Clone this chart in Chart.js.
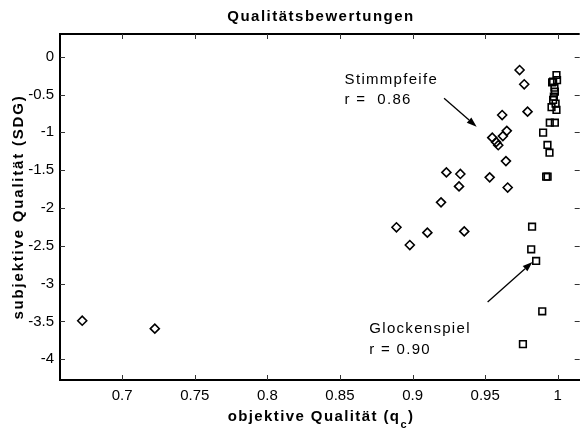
<!DOCTYPE html>
<html><head><meta charset="utf-8">
<script src="https://cdn.jsdelivr.net/npm/chart.js@4.4.0/dist/chart.umd.min.js"></script>
<style>html,body{margin:0;padding:0;background:#fff;overflow:hidden}#wrap{width:581px;height:429px;position:relative;overflow:hidden}</style>
</head><body><div id="wrap"><canvas id="c" width="586" height="429"></canvas></div>
<script>
// ---- data ----
const stimmpfeifeX = [0.6725, 0.7225, 0.8889, 0.8981, 0.9102, 0.9196, 0.9233, 0.9320, 0.9329, 0.9356, 0.9531,
  0.9549, 0.9576, 0.9590, 0.9622, 0.9649, 0.9617, 0.9643, 0.9655, 0.9737, 0.9769, 0.9792];
const stimmpfeifeY = [-3.49, -3.595, -2.255, -2.49, -2.326, -1.925, -1.53, -1.715, -1.55, -2.31, -1.595,
  -1.07, -1.13, -1.17, -1.05, -0.98, -0.771, -1.38, -1.73, -0.176, -0.365, -0.727];
const glockenspielX = [0.9991, 0.9995, 0.9961, 0.9968, 0.9977, 0.9980, 0.9973, 0.9968, 0.9985, 0.9957, 0.9991,
  0.9945, 0.9980, 0.9899, 0.9929, 0.9943, 0.9920, 0.9930, 0.9823, 0.9817, 0.9851, 0.9893, 0.9760];
const glockenspielY = [-0.242, -0.31, -0.339, -0.33, -0.41, -0.463, -0.529, -0.572, -0.62, -0.668, -0.704,
  -0.872, -0.872, -1.004, -1.167, -1.269, -1.586, -1.586, -2.247, -2.546, -2.70, -3.366, -3.80];
const xTicks = [0.7, 0.75, 0.8, 0.85, 0.9, 0.95, 1];
const yTicks = [-4, -3.5, -3, -2.5, -2, -1.5, -1, -0.5, 0];
const chartTitle = 'Qualitätsbewertungen';
const xTitleMain = 'objektive Qualität (q';
const xTitleSub = 'c';
const xTitleEnd = ')';
const yTitle = 'subjektive Qualität (SDG)';
const noteStimm = ['Stimmpfeife', 'r =  0.86'];
const noteGlocken = ['Glockenspiel', 'r = 0.90'];

// annotation anchors in data coordinates
const notes = [
  {lines: noteStimm, x: 0.8532, y: [-0.36, -0.625], from: [0.9217, -0.55], to: [0.9441, -0.925]},
  {lines: noteGlocken, x: 0.8702, y: [-3.652, -3.93], from: [0.9517, -3.243], to: [0.9826, -2.714]}
];

const FONT = '"Liberation Sans", Arial, sans-serif';
const toPts = (xs, ys) => xs.map((x, i) => ({x, y: ys[i]}));

const decor = {
  id: 'decor',
  afterDraw(chart) {
    const ctx = chart.ctx, a = chart.chartArea, xs = chart.scales.x, ys = chart.scales.y;
    const cx = 321;
    ctx.save();
    // top frame line
    ctx.strokeStyle = '#000'; ctx.lineWidth = 2;
    ctx.beginPath(); ctx.moveTo(a.left - 1, a.top); ctx.lineTo(a.right, a.top); ctx.stroke();
    // inward ticks
    ctx.lineWidth = 1; ctx.strokeStyle = '#333';
    xTicks.forEach(v => {
      const px = Math.round(xs.getPixelForValue(v)) + 0.5;
      ctx.beginPath(); ctx.moveTo(px, a.bottom); ctx.lineTo(px, a.bottom - 5); ctx.stroke();
      ctx.beginPath(); ctx.moveTo(px, a.top); ctx.lineTo(px, a.top + 5); ctx.stroke();
    });
    yTicks.forEach(v => {
      const py = Math.round(ys.getPixelForValue(v)) + 0.5;
      ctx.beginPath(); ctx.moveTo(a.left, py); ctx.lineTo(a.left + 5, py); ctx.stroke();
      ctx.beginPath(); ctx.moveTo(a.right - 5, py); ctx.lineTo(a.right, py); ctx.stroke();
    });

    ctx.fillStyle = '#000';
    // chart title
    ctx.font = 'bold 15px ' + FONT;
    ctx.letterSpacing = '1.5px';
    ctx.textAlign = 'center'; ctx.textBaseline = 'alphabetic';
    ctx.fillText(chartTitle, cx, 21);

    // x title with subscript
    ctx.textAlign = 'left';
    ctx.letterSpacing = '1.4px';
    ctx.font = 'bold 15px ' + FONT;
    const w1 = ctx.measureText(xTitleMain).width;
    const w3 = ctx.measureText(xTitleEnd).width;
    ctx.font = 'bold 11px ' + FONT;
    const w2 = ctx.measureText(xTitleSub).width;
    const sx = cx - (w1 + w2 + w3) / 2;
    ctx.font = 'bold 15px ' + FONT;
    ctx.fillText(xTitleMain, sx, 421);
    ctx.font = 'bold 11px ' + FONT;
    ctx.fillText(xTitleSub, sx + w1, 428);
    ctx.font = 'bold 15px ' + FONT;
    ctx.fillText(xTitleEnd, sx + w1 + w2, 421);

    // y title
    ctx.save();
    ctx.translate(23, (a.top + a.bottom) / 2);
    ctx.rotate(-Math.PI / 2);
    ctx.textAlign = 'center';
    ctx.letterSpacing = '1.8px';
    ctx.font = 'bold 15px ' + FONT;
    ctx.fillText(yTitle, 0, 0);
    ctx.restore();

    // annotations
    ctx.font = '15px ' + FONT;
    ctx.letterSpacing = '1.3px';
    ctx.textAlign = 'left';
    notes.forEach(n => {
      const tx = xs.getPixelForValue(n.x);
      n.lines.forEach((t, i) => ctx.fillText(t, tx, ys.getPixelForValue(n.y[i])));
      const x0 = xs.getPixelForValue(n.from[0]), y0 = ys.getPixelForValue(n.from[1]);
      const x1 = xs.getPixelForValue(n.to[0]), y1 = ys.getPixelForValue(n.to[1]);
      const ang = Math.atan2(y1 - y0, x1 - x0);
      const hl = 10, hw = 3.5;
      const bx = x1 - hl * Math.cos(ang), by = y1 - hl * Math.sin(ang);
      ctx.lineWidth = 1.3; ctx.strokeStyle = '#000';
      ctx.beginPath(); ctx.moveTo(x0, y0); ctx.lineTo(bx, by); ctx.stroke();
      ctx.beginPath();
      ctx.moveTo(x1, y1);
      ctx.lineTo(bx + hw * Math.sin(ang), by - hw * Math.cos(ang));
      ctx.lineTo(bx - hw * Math.sin(ang), by + hw * Math.cos(ang));
      ctx.closePath(); ctx.fill();
    });
    ctx.restore();
  }
};

new Chart(document.getElementById('c'), {
  type: 'scatter',
  data: {
    datasets: [
      {label: 'Stimmpfeife', data: toPts(stimmpfeifeX, stimmpfeifeY), pointStyle: 'rectRot',
       radius: 4.5, borderWidth: 1.6, borderColor: '#000', backgroundColor: 'rgba(255,255,255,0)'},
      {label: 'Glockenspiel', data: toPts(glockenspielX, glockenspielY), pointStyle: 'rect',
       radius: 4.7, borderWidth: 1.6, borderColor: '#000', backgroundColor: 'rgba(255,255,255,0)'}
    ]
  },
  options: {
    responsive: false, animation: false, devicePixelRatio: 1,
    layout: {padding: {top: 34, left: 0, right: 0, bottom: 0}},
    plugins: {legend: {display: false}, title: {display: false}, tooltip: {enabled: false}},
    scales: {
      x: {
        type: 'linear', min: 0.6572, max: 1.0151,
        afterFit: s => { s.height = 49; },
        afterBuildTicks: s => { s.ticks = xTicks.map(v => ({value: v})); },
        grid: {display: false, drawTicks: false},
        border: {display: true, color: '#000', width: 2},
        ticks: {color: '#000', font: {family: FONT, size: 15}, padding: 7, maxRotation: 0,
                autoSkip: false, callback: v => String(v)}
      },
      y: {
        type: 'linear', min: -4.274, max: 0.30,
        afterFit: s => { s.width = 60; },
        afterBuildTicks: s => { s.ticks = yTicks.map(v => ({value: v})); },
        grid: {display: false, drawTicks: false},
        border: {display: true, color: '#000', width: 2},
        ticks: {color: '#000', font: {family: FONT, size: 15}, padding: 6,
                autoSkip: false, callback: v => String(v)}
      }
    }
  },
  plugins: [decor]
});
</script></body></html>
